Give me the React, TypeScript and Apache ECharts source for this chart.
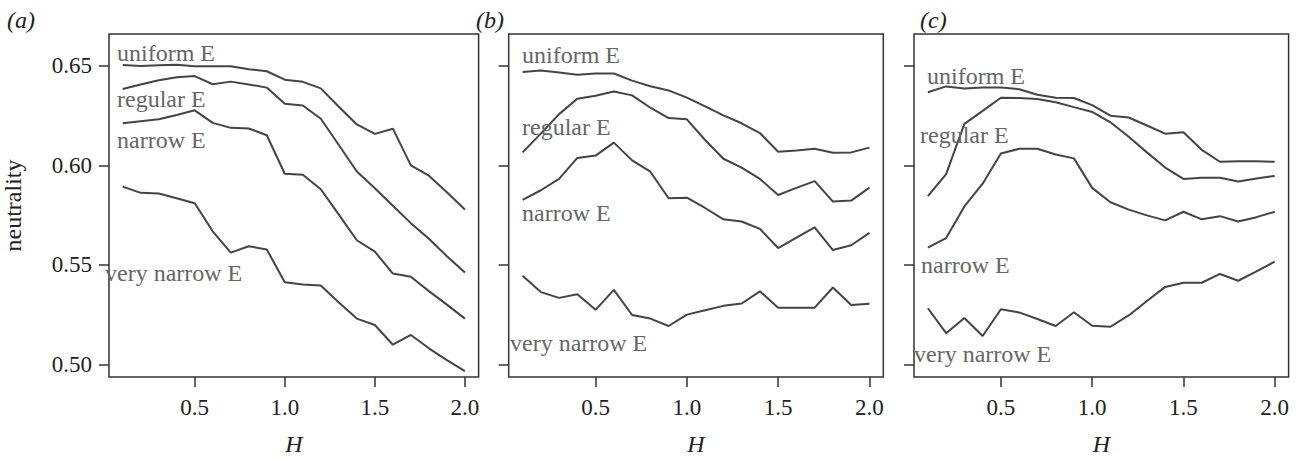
import React, { useEffect, useRef } from "react";
import * as echarts from "echarts";

const H = [0.1, 0.2, 0.3, 0.4, 0.5, 0.6, 0.7, 0.8, 0.9, 1.0, 1.1, 1.2, 1.3, 1.4, 1.5, 1.6, 1.7, 1.8, 1.9, 2.0];

const panelNames = ["(a)", "(b)", "(c)"];
const seriesNames = ["uniform E", "regular E", "narrow E", "very narrow E"];
const xTicks = [0.5, 1.0, 1.5, 2.0];
const yTicks = [0.5, 0.55, 0.6, 0.65];

// panel (a)
const aUniform = [0.6503, 0.6498, 0.6502, 0.6505, 0.6497, 0.6497, 0.6497, 0.6482, 0.6472, 0.643, 0.6419, 0.6386, 0.6294, 0.6205, 0.6158, 0.6184, 0.6, 0.5948, 0.5865, 0.5778];
const aRegular = [0.6383, 0.6406, 0.6427, 0.6442, 0.6448, 0.6407, 0.642, 0.6406, 0.639, 0.6309, 0.63, 0.6234, 0.6102, 0.5969, 0.5885, 0.5797, 0.571, 0.5632, 0.5544, 0.5462];
const aNarrow = [0.6211, 0.6221, 0.6231, 0.6253, 0.6276, 0.6213, 0.6188, 0.6185, 0.6151, 0.5958, 0.5953, 0.588, 0.5753, 0.5624, 0.5567, 0.5457, 0.5441, 0.5369, 0.5301, 0.5231];
const aVeryNarrow = [0.5893, 0.5862, 0.5859, 0.5835, 0.581, 0.5669, 0.5562, 0.5594, 0.5578, 0.5413, 0.5402, 0.5397, 0.5312, 0.5231, 0.5199, 0.51, 0.5149, 0.5082, 0.5023, 0.4968];

// panel (b)
const bUniform = [0.6468, 0.6476, 0.6466, 0.6455, 0.6461, 0.6461, 0.6425, 0.6397, 0.6376, 0.634, 0.6296, 0.6251, 0.6211, 0.6162, 0.6068, 0.6075, 0.6083, 0.6063, 0.6065, 0.6089];
const bRegular = [0.6065, 0.6159, 0.6257, 0.6334, 0.6349, 0.637, 0.6351, 0.6289, 0.6237, 0.6231, 0.6127, 0.6033, 0.5989, 0.5932, 0.5851, 0.5887, 0.5921, 0.5818, 0.5823, 0.5888];
const bNarrow = [0.5827, 0.5875, 0.5932, 0.6037, 0.6049, 0.6114, 0.6025, 0.5968, 0.5835, 0.5838, 0.5786, 0.5729, 0.5718, 0.5681, 0.5585, 0.5637, 0.5689, 0.5575, 0.5599, 0.5661];
const bVeryNarrow = [0.5446, 0.5364, 0.5335, 0.5353, 0.5275, 0.5375, 0.5249, 0.5231, 0.5194, 0.5251, 0.5273, 0.5295, 0.5307, 0.5368, 0.5286, 0.5286, 0.5286, 0.5387, 0.5299, 0.5306];

// panel (c)
const cUniform = [0.6367, 0.6396, 0.6385, 0.6391, 0.639, 0.6382, 0.6354, 0.6339, 0.6338, 0.6302, 0.6249, 0.624, 0.62, 0.6159, 0.6166, 0.6078, 0.6018, 0.602, 0.602, 0.6018];
const cRegular = [0.5846, 0.5956, 0.6208, 0.6273, 0.6339, 0.6338, 0.6333, 0.6317, 0.6292, 0.6268, 0.6216, 0.6143, 0.6065, 0.5989, 0.5932, 0.5938, 0.5938, 0.5919, 0.5934, 0.5947];
const cNarrow = [0.5587, 0.5635, 0.5794, 0.5908, 0.6059, 0.6083, 0.6083, 0.6054, 0.6035, 0.5887, 0.5815, 0.5778, 0.5749, 0.5724, 0.5767, 0.5729, 0.5745, 0.5718, 0.574, 0.5767];
const cVeryNarrow = [0.5283, 0.5158, 0.5234, 0.5144, 0.5278, 0.5262, 0.5229, 0.5194, 0.5263, 0.5195, 0.519, 0.5247, 0.5319, 0.539, 0.5411, 0.5411, 0.5455, 0.5421, 0.5468, 0.5517];

const panels = [
  [aUniform, aRegular, aNarrow, aVeryNarrow],
  [bUniform, bRegular, bNarrow, bVeryNarrow],
  [cUniform, cRegular, cNarrow, cVeryNarrow],
];

// layout (pixels) — kept separate from data
const gridLefts = [104, 508.7, 914];
const gridWidth = 374.6;
const gridTop = 34;
const gridHeight = 352.7;
const panelLabelX = [7, 476, 920];
const seriesLabelPos = [
  [[117, 53], [117, 99], [117, 140], [105, 273]],
  [[522, 55], [522, 127], [522, 213], [510, 343]],
  [[927, 76], [920, 135], [921, 265], [914, 354]],
];

const FONT = "'Liberation Serif', 'DejaVu Serif', serif";

export default function App() {
  const ref = useRef<HTMLDivElement>(null);
  useEffect(() => {
    if (!ref.current) return;
    const chart = echarts.init(ref.current, undefined, { renderer: "svg" });
    const grid: any[] = [];
    const xAxis: any[] = [];
    const yAxis: any[] = [];
    const series: any[] = [];
    const graphic: any[] = [];
    panels.forEach((p, i) => {
      grid.push({
        left: gridLefts[i],
        top: gridTop,
        width: gridWidth,
        height: gridHeight,
        show: true,
        borderColor: "#333",
        borderWidth: 1.5,
        backgroundColor: "transparent",
      });
      xAxis.push({
        type: "value",
        gridIndex: i,
        min: 0.024,
        max: 2.076,
        name: "H",
        nameLocation: "middle",
        nameGap: 55,
        nameTextStyle: { fontFamily: FONT, fontSize: 24, fontStyle: "italic", color: "#222" },
        axisLine: { show: false },
        splitLine: { show: false },
        axisTick: { show: true, length: 10, lineStyle: { color: "#333", width: 1.5 }, customValues: xTicks },
        axisLabel: {
          customValues: xTicks,
          margin: 19,
          fontFamily: FONT,
          fontSize: 23,
          color: "#222",
          formatter: (v: number) => v.toFixed(1),
        },
      });
      yAxis.push({
        type: "value",
        gridIndex: i,
        min: 0.4938,
        max: 0.6659,
        name: i === 0 ? "neutrality" : "",
        nameLocation: "middle",
        nameGap: 84,
        nameTextStyle: { fontFamily: FONT, fontSize: 24, color: "#222" },
        axisLine: { show: false },
        splitLine: { show: false },
        axisTick: { show: true, length: 10, lineStyle: { color: "#333", width: 1.5 }, customValues: yTicks },
        axisLabel: {
          show: i === 0,
          customValues: yTicks,
          margin: 17,
          fontFamily: FONT,
          fontSize: 23,
          color: "#222",
          formatter: (v: number) => v.toFixed(2),
        },
      });
      p.forEach((vals, j) => {
        series.push({
          type: "line",
          name: seriesNames[j],
          xAxisIndex: i,
          yAxisIndex: i,
          data: H.map((h, k) => [h, vals[k]]),
          showSymbol: false,
          symbol: "none",
          lineStyle: { color: "#444", width: 2 },
          z: 2,
        });
        const pos = seriesLabelPos[i][j];
        graphic.push({
          type: "text",
          x: pos[0],
          y: pos[1],
          style: {
            text: seriesNames[j],
            fontFamily: FONT,
            fontSize: 24,
            fill: "#666",
            verticalAlign: "middle",
          },
          z: 10,
        });
      });
      graphic.push({
        type: "text",
        x: panelLabelX[i],
        y: 20,
        style: {
          text: panelNames[i],
          fontFamily: FONT,
          fontSize: 24,
          fontStyle: "italic",
          fill: "#222",
          verticalAlign: "middle",
        },
      });
    });
    chart.setOption({
      animation: false,
      backgroundColor: "#fff",
      grid,
      xAxis,
      yAxis,
      series,
      graphic,
    });
    return () => chart.dispose();
  }, []);
  return (
    <div
      ref={ref}
      style={{ position: "absolute", left: 0, top: 0, width: 1303, height: 461 }}
    />
  );
}
